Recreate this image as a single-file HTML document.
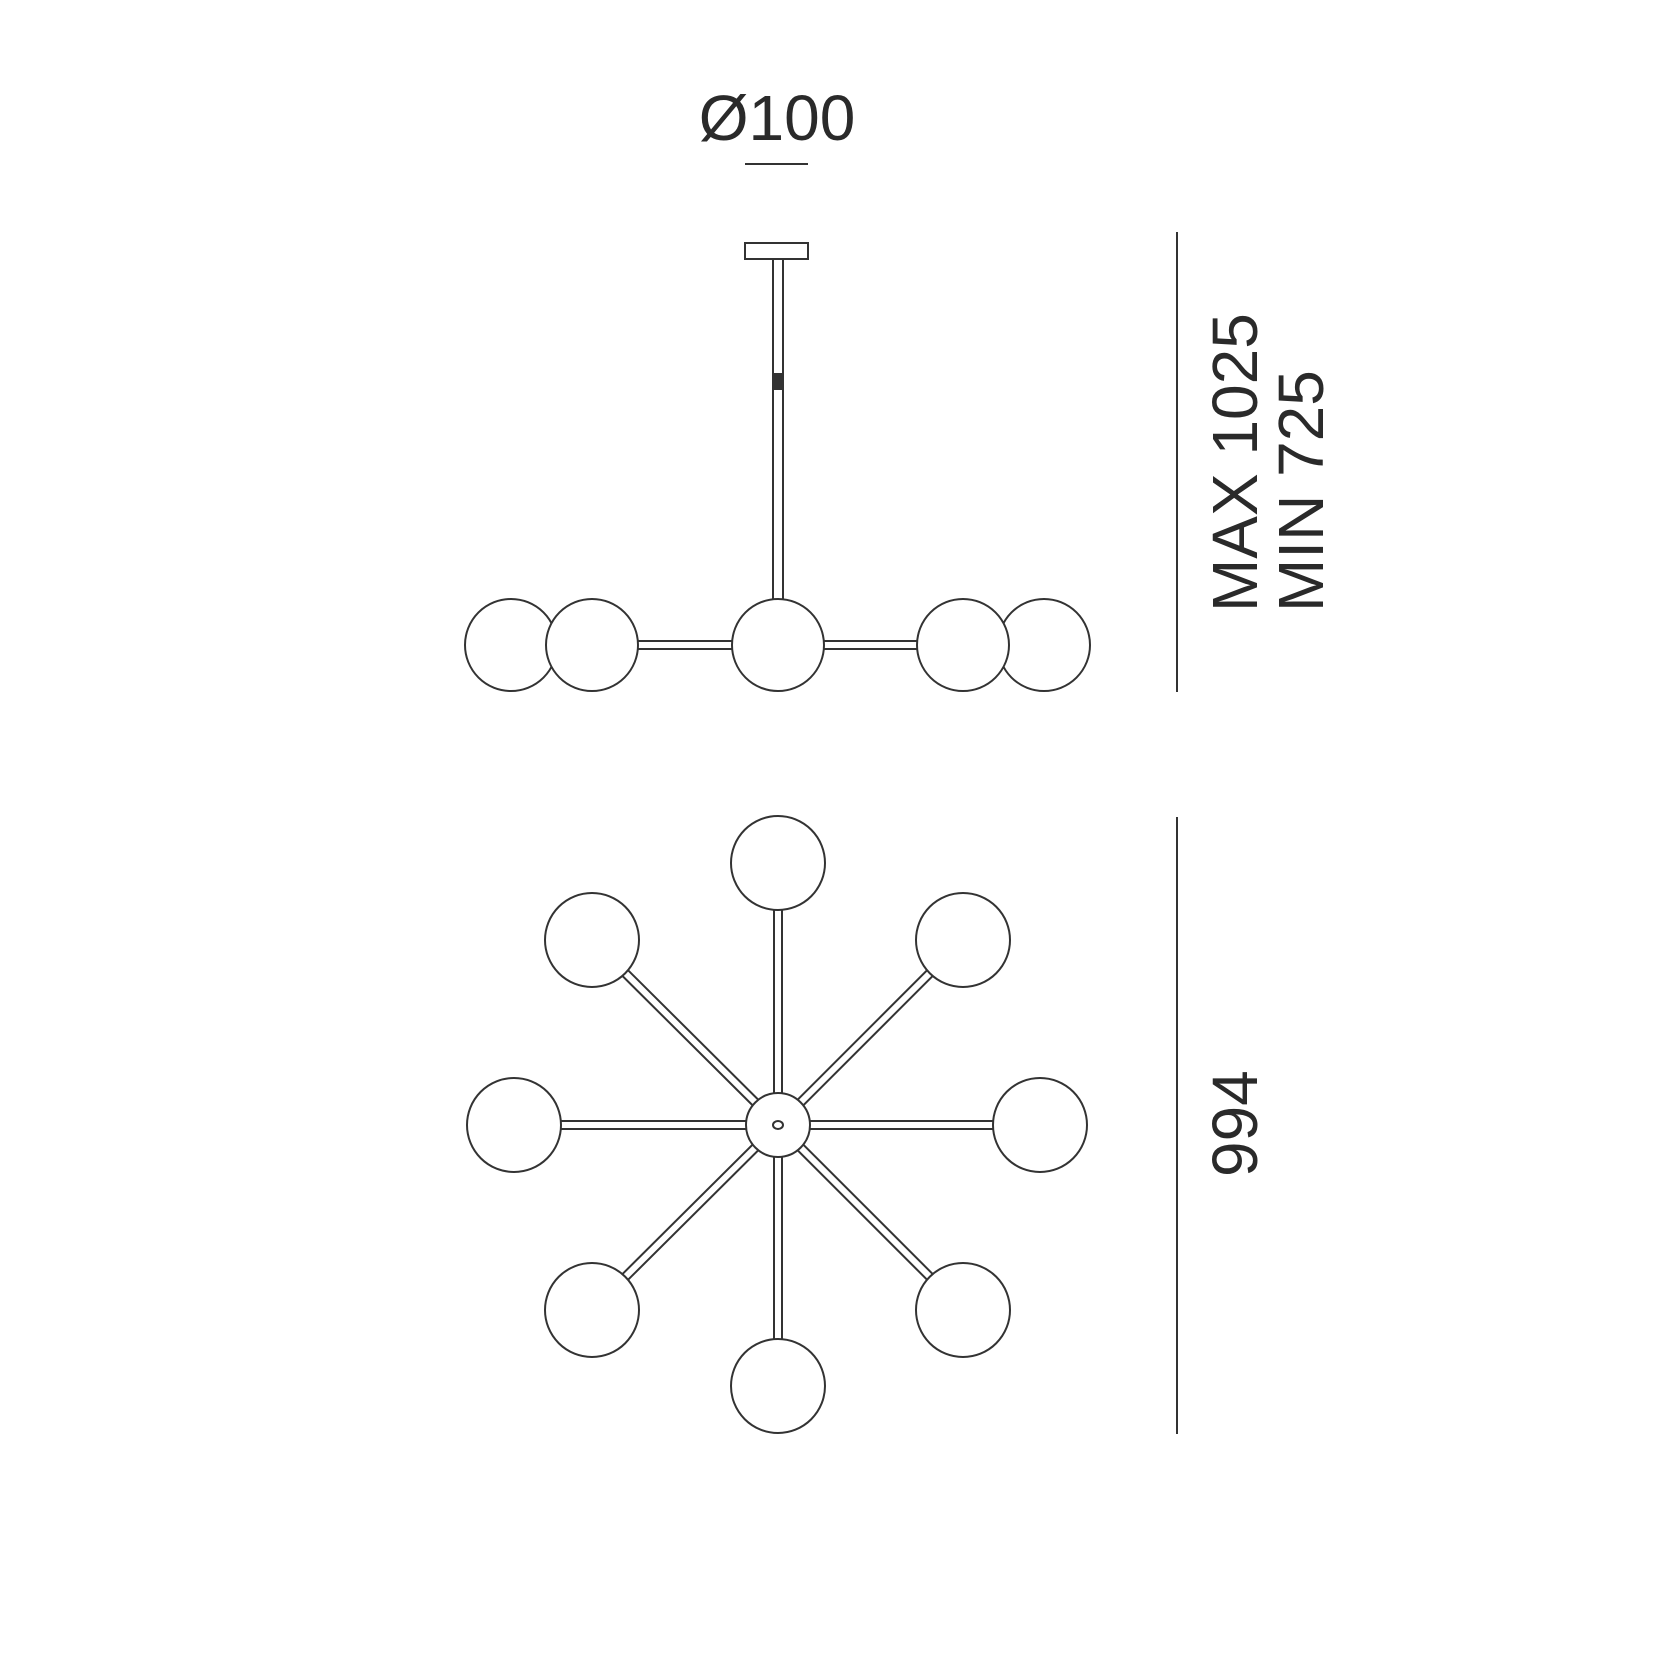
<!DOCTYPE html>
<html><head><meta charset="utf-8"><style>html,body{margin:0;padding:0;background:#fff}svg{display:block}</style></head>
<body>
<svg width="1676" height="1676" viewBox="0 0 1676 1676" xmlns="http://www.w3.org/2000/svg">
<g font-family="Liberation Sans, sans-serif" fill="#2a2a2a">
<text x="777" y="140" font-size="64" text-anchor="middle">Ø100</text>
<text transform="translate(1257,612) rotate(-90)" font-size="64">MAX 1025</text>
<text transform="translate(1323,612) rotate(-90)" font-size="64">MIN 725</text>
<text transform="translate(1257,1177) rotate(-90)" font-size="64">994</text>
</g>
<g stroke="#333" stroke-width="2" fill="#fff">
<line x1="745" y1="164" x2="808" y2="164"/>
<line x1="1177" y1="232" x2="1177" y2="692"/>
<line x1="1177" y1="817" x2="1177" y2="1434"/>
<rect x="745" y="243" width="63" height="16"/>
</g>
<!-- stem -->
<line x1="778" y1="259" x2="778" y2="600" stroke="#333" stroke-width="12"/>
<line x1="778" y1="260" x2="778" y2="600" stroke="#fff" stroke-width="8"/>
<rect x="772" y="373" width="12" height="17" fill="#333"/>
<!-- side arms -->
<line x1="592" y1="645" x2="963" y2="645" stroke="#333" stroke-width="10"/>
<line x1="592" y1="645" x2="963" y2="645" stroke="#fff" stroke-width="6"/>
<g stroke="#333" stroke-width="2" fill="#fff">
<circle cx="511" cy="645" r="46"/>
<circle cx="592" cy="645" r="46"/>
<circle cx="1044" cy="645" r="46"/>
<circle cx="963" cy="645" r="46"/>
<circle cx="778" cy="645" r="46"/>
</g>
<!-- top view arms -->
<g stroke="#333" stroke-width="10">
<line x1="778" y1="1125" x2="778" y2="863"/><line x1="778" y1="1125" x2="778" y2="1386"/>
<line x1="778" y1="1125" x2="514" y2="1125"/><line x1="778" y1="1125" x2="1040" y2="1125"/>
<line x1="778" y1="1125" x2="592" y2="940"/><line x1="778" y1="1125" x2="963" y2="940"/>
<line x1="778" y1="1125" x2="592" y2="1310"/><line x1="778" y1="1125" x2="963" y2="1310"/>
</g>
<g stroke="#fff" stroke-width="6">
<line x1="778" y1="1125" x2="778" y2="863"/><line x1="778" y1="1125" x2="778" y2="1386"/>
<line x1="778" y1="1125" x2="514" y2="1125"/><line x1="778" y1="1125" x2="1040" y2="1125"/>
<line x1="778" y1="1125" x2="592" y2="940"/><line x1="778" y1="1125" x2="963" y2="940"/>
<line x1="778" y1="1125" x2="592" y2="1310"/><line x1="778" y1="1125" x2="963" y2="1310"/>
</g>
<g stroke="#333" stroke-width="2" fill="#fff">
<circle cx="778" cy="863" r="47"/>
<circle cx="778" cy="1386" r="47"/>
<circle cx="514" cy="1125" r="47"/>
<circle cx="1040" cy="1125" r="47"/>
<circle cx="592" cy="940" r="47"/>
<circle cx="963" cy="940" r="47"/>
<circle cx="592" cy="1310" r="47"/>
<circle cx="963" cy="1310" r="47"/>
<circle cx="778" cy="1125" r="32"/>
<ellipse cx="778" cy="1125" rx="5" ry="4"/>
</g>
</svg>
</body></html>
